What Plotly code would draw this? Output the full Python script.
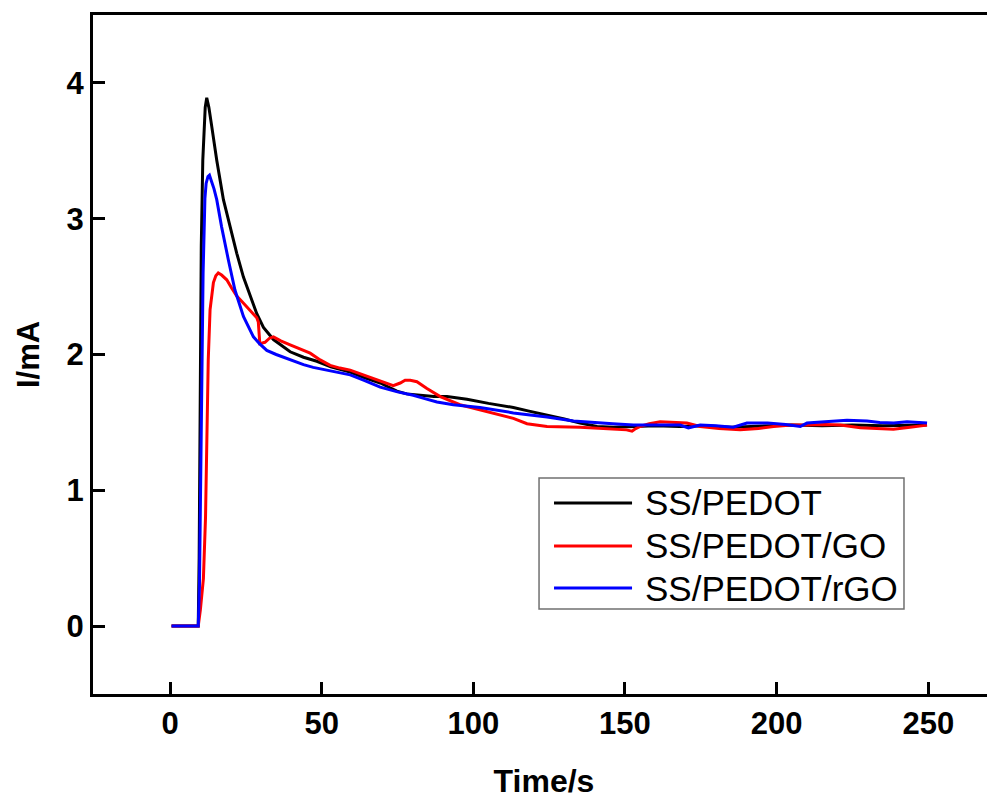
import plotly.graph_objects as go

# ---------------- data ----------------
series_names = ["SS/PEDOT", "SS/PEDOT/GO", "SS/PEDOT/rGO"]
series_colors = ["#000000", "#ff0000", "#0000ff"]

pedot_t = [0.5, 9.3, 9.6, 9.9, 10.3, 10.8, 11.2, 11.6, 12.1, 12.5, 12.8, 13.75,
           15.4, 17.6, 19.8, 22, 24.2, 26.4, 28.6, 30.8, 34.1, 39.6,
           44, 48.4, 53, 59.4, 64, 69.3, 74.8, 78, 82.4, 87,
           91.3, 97.9, 105, 113.2, 118, 124.3, 130, 135.2, 140.8, 146.2,
           152, 160, 168, 176, 185, 195, 205, 215, 225, 235,
           243, 249.5]
pedot_i = [0, 0, 0.5, 1.8, 2.8, 3.43, 3.68, 3.82, 3.89, 3.86, 3.82, 3.68,
           3.43, 3.14, 2.94, 2.745, 2.57, 2.43, 2.30, 2.20, 2.11, 2.02,
           1.98, 1.95, 1.91, 1.87, 1.83, 1.79, 1.73, 1.71, 1.70, 1.69,
           1.69, 1.67, 1.64, 1.61, 1.585, 1.555, 1.525, 1.495, 1.47, 1.465,
           1.47, 1.475, 1.47, 1.475, 1.465, 1.47, 1.48, 1.475, 1.48, 1.475,
           1.48, 1.48]

go_t = [0.5, 9.3, 10, 11, 11.7, 12.2, 12.6, 13.2, 14.3, 15.1, 15.9,
        17, 18.7, 20.3, 22, 23.7, 25.3, 27, 28.6, 29.1, 29.6,
        31.3, 32.8, 34.1, 36.5, 39.6, 43, 46.2, 49.5, 52.8, 56,
        59.4, 63.7, 68.5, 73.6, 75.9, 77.5, 79.2, 81.4, 84.7, 89.1,
        95.6, 104.5, 113.2, 117.7, 124.3, 135.2, 141.8, 146.2, 150.5, 152.3,
        153.2, 155, 158, 161.6, 166, 170.4, 174.8, 181, 188, 194,
        199, 205, 210, 216, 221, 227.6, 233, 238.5, 244, 249.6]
go_i = [0, 0, 0.12, 0.35, 0.8, 1.5, 1.96, 2.33, 2.53, 2.58, 2.60,
        2.585, 2.55, 2.49, 2.43, 2.39, 2.35, 2.31, 2.27, 2.24, 2.08,
        2.09, 2.12, 2.13, 2.10, 2.07, 2.04, 2.01, 1.96, 1.92, 1.90,
        1.885, 1.85, 1.81, 1.77, 1.79, 1.81, 1.81, 1.80, 1.75, 1.69,
        1.63, 1.58, 1.53, 1.49, 1.47, 1.465, 1.455, 1.45, 1.445, 1.435,
        1.45, 1.47, 1.49, 1.505, 1.50, 1.495, 1.47, 1.455, 1.445, 1.455,
        1.47, 1.48, 1.48, 1.485, 1.48, 1.46, 1.455, 1.45, 1.465, 1.48]

rgo_t = [0.5, 9.3, 9.7, 10.1, 10.4, 10.9, 11.5, 11.9, 12.5, 13, 13.6,
         14.5, 15.4, 17, 19.2, 21.4, 24.2, 27.5, 29.5, 31.9, 35,
         39.6, 44, 47.2, 50.6, 55, 59.4, 64, 69.3, 75, 80.2,
         84, 88, 93.4, 102.2, 113.2, 124.3, 133, 141.8, 146, 152.8,
         157.3, 163.8, 168.2, 170.9, 174.8, 180, 185.7, 190.2, 197, 203,
         207.8, 210, 214, 218.8, 223.2, 229.8, 234, 238.6, 243, 249.6]
rgo_i = [0, 0, 0.3, 1.0, 1.8, 2.6, 3.15, 3.26, 3.31, 3.32, 3.28,
         3.22, 3.14, 2.94, 2.70, 2.475, 2.28, 2.13, 2.08, 2.03, 2.00,
         1.96, 1.925, 1.905, 1.89, 1.87, 1.85, 1.81, 1.76, 1.725, 1.70,
         1.675, 1.65, 1.63, 1.61, 1.57, 1.54, 1.51, 1.50, 1.49, 1.48,
         1.48, 1.48, 1.48, 1.46, 1.48, 1.475, 1.465, 1.495, 1.495, 1.485,
         1.47, 1.495, 1.50, 1.505, 1.515, 1.51, 1.50, 1.495, 1.505, 1.495]

x_ticks = [0, 50, 100, 150, 200, 250]
y_ticks = [0, 1, 2, 3, 4]
x_title = "Time/s"
y_title = "I/mA"

# ---------------- figure ----------------
FONT = "Liberation Sans, Arial, sans-serif"
fig = go.Figure()
for name, color, t, i in zip(series_names, series_colors,
                             [pedot_t, go_t, rgo_t], [pedot_i, go_i, rgo_i]):
    fig.add_trace(go.Scatter(x=t, y=i, mode="lines", name=name,
                             line=dict(color=color, width=3),
                             showlegend=False))

axis_common = dict(showline=True, linecolor="black", linewidth=3,
                   ticks="inside", ticklen=12, tickwidth=3, tickcolor="black",
                   showgrid=False, zeroline=False, automargin=False,
                   tickfont=dict(family=FONT, size=31, color="black", weight="bold"))

fig.update_xaxes(range=[-25.4, 272], tickvals=x_ticks, mirror=True,
                 ticklabelstandoff=0,
                 title=dict(text=x_title, standoff=30,
                            font=dict(family=FONT, size=32, color="black", weight="bold")),
                 **axis_common)
fig.update_yaxes(range=[-0.5, 4.5], tickvals=y_ticks, mirror=False,
                 ticklabelstandoff=0,
                 title=dict(text=y_title, standoff=18,
                            font=dict(family=FONT, size=31, color="black", weight="bold")),
                 **axis_common)

# ---------------- legend (drawn box) ----------------
box = dict(x0=0.4945, x1=0.8991, y0=0.1252, y1=0.3181)
fig.add_shape(type="rect", xref="paper", yref="paper", **box,
              line=dict(color="#707070", width=1.5), fillcolor="white", layer="above")
row_y = [0.2813, 0.2180, 0.1561]
for name, color, yy in zip(series_names, series_colors, row_y):
    fig.add_shape(type="line", xref="paper", yref="paper",
                  x0=0.5111, x1=0.5976, y0=yy, y1=yy,
                  line=dict(color=color, width=3), layer="above")
    fig.add_annotation(xref="paper", yref="paper", x=0.6098, y=yy,
                       text=name, showarrow=False, xanchor="left", yanchor="middle",
                       font=dict(family=FONT, size=35, color="black"))

# the page adds an 8 px body margin, so the figure is sized to fit inside it
fig.update_layout(width=987, height=791,
                  margin=dict(l=85, r=0, t=7, b=105, autoexpand=False),
                  paper_bgcolor="white", plot_bgcolor="white")

fig.write_html("out.html")
